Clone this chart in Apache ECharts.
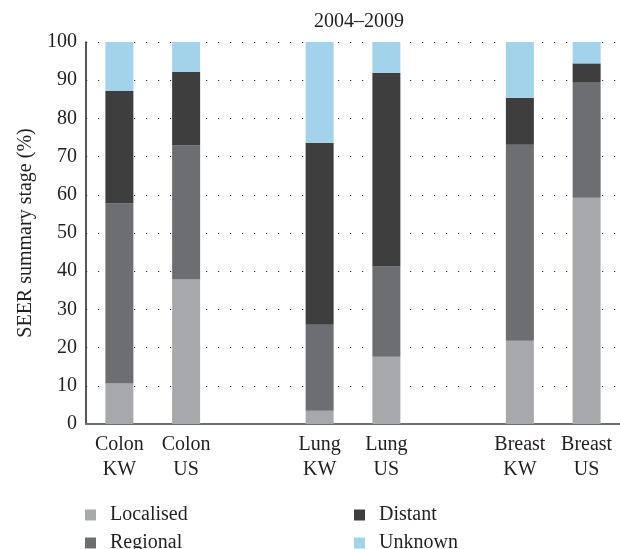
<!DOCTYPE html>
<html><head><meta charset="utf-8">
<script src="https://cdn.jsdelivr.net/npm/echarts@6/dist/echarts.min.js"></script>
<style>html,body{margin:0;padding:0;background:#fff}#c{width:620px;height:549px}</style>
</head><body><div id="c"></div>
<script>
const categories = ['Colon\nKW', 'Colon\nUS', '', 'Lung\nKW', 'Lung\nUS', '', 'Breast\nKW', 'Breast\nUS'];
const localised = [10.6, 37.8, null, 3.5, 17.6, null, 21.8, 59.2];
const regional  = [47.1, 35.1, null, 22.5, 23.6, null, 51.3, 30.3];
const distant   = [29.5, 19.3, null, 47.6, 50.7, null, 12.3, 4.9];
const unknown   = [12.8, 7.8, null, 26.4, 8.1, null, 14.6, 5.6];
const yTicks = [0, 10, 20, 30, 40, 50, 60, 70, 80, 90, 100];
const seriesNames = ['Localised', 'Regional', 'Distant', 'Unknown'];

const font = 'Liberation Serif';
const fs = 20;
const colors = {Localised: '#a7a8ab', Regional: '#6d6e71', Distant: '#3e3e3e', Unknown: '#a3d3ea'};
const chart = echarts.init(document.getElementById('c'));
function s(name, data) {
  return {name, type: 'bar', stack: 'all', data, barWidth: 28,
    itemStyle: {color: colors[name]}, emphasis: {disabled: true}};
}
const legendPos = {Localised: [80, 500], Regional: [80, 528], Distant: [349, 500], Unknown: [349, 528]};
const legends = seriesNames.map(n => ({
  data: [n], left: legendPos[n][0], top: legendPos[n][1], itemWidth: 11, itemHeight: 11, icon: 'rect',
  textStyle: {fontFamily: font, fontSize: fs, color: '#231f20', padding: [0, 0, 0, 9]}
}));
chart.setOption({
  animation: false,
  title: {text: '2004\u20132009', left: 354, top: 7, textAlign: 'center',
    textStyle: {fontFamily: font, fontSize: 20, fontWeight: 'normal', color: '#231f20'}},
  legend: legends,
  grid: {left: 86, top: 42, width: 536, bottom: 125, containLabel: false},
  xAxis: {type: 'category', data: categories,
    axisLine: {lineStyle: {color: '#6d6e71', width: 2}},
    axisTick: {show: false},
    axisLabel: {fontFamily: font, fontSize: fs, color: '#231f20', lineHeight: 25, margin: 8, interval: 0}},
  yAxis: {type: 'value', min: yTicks[0], max: yTicks[yTicks.length - 1], interval: 10,
    name: 'SEER summary stage (%)', nameLocation: 'middle', nameGap: 46,
    nameTextStyle: {fontFamily: font, fontSize: fs, color: '#231f20'},
    axisLine: {show: true, lineStyle: {color: '#231f20', width: 1.5}},
    axisTick: {show: false},
    axisLabel: {fontFamily: font, fontSize: fs, color: '#231f20', margin: 9},
    splitLine: {show: true, lineStyle: {color: '#333', width: 1.2, type: [1.2, 10.8]}}},
  series: seriesNames.map((n, i) => s(n, [localised, regional, distant, unknown][i]))
});
</script></body></html>
